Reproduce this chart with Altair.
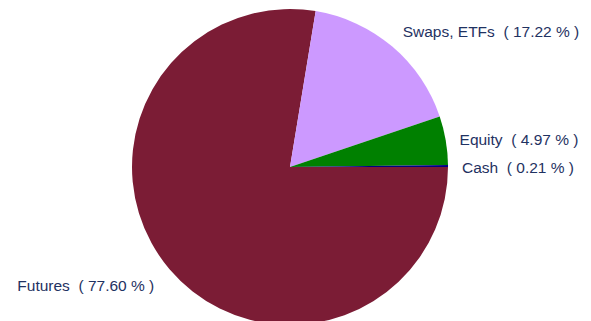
import altair as alt
import pandas as pd
import math

categories = ["Futures", "Swaps, ETFs", "Equity", "Cash"]
values = [77.60, 17.22, 4.97, 0.21]
colors = ["#7B1C35", "#CC99FF", "#008000", "#000080"]
labels = [f"{c}\u00a0 ( {v:.2f} % )" for c, v in zip(categories, values)]

df = pd.DataFrame({"cat": categories, "val": values, "label": labels,
                   "order": list(range(len(categories)))})

theta_scale = alt.Scale(domain=[0, 100], range=[math.pi / 2, math.pi / 2 + 2 * math.pi])

pie = alt.Chart(df).mark_arc(outerRadius=158, stroke=None).encode(
    theta=alt.Theta("val:Q", stack=True, scale=theta_scale),
    order=alt.Order("order:Q"),
    color=alt.Color("cat:N", scale=alt.Scale(domain=categories, range=colors), legend=None),
)

lab = alt.Chart(df).transform_window(
    cum="sum(val)", sort=[alt.SortField("order")]
).transform_calculate(mid="datum.cum - datum.val / 2")

txt_style = dict(font="Liberation Sans", fontSize=15.5, color="#1F3262", baseline="middle")
enc = dict(theta=alt.Theta("mid:Q", scale=theta_scale), text="label:N")

swaps = lab.transform_filter(alt.datum.cat == "Swaps, ETFs").mark_text(
    radius=174, align="left", dy=-2, **txt_style).encode(**enc)
small = lab.transform_filter((alt.datum.cat == "Equity") | (alt.datum.cat == "Cash")).mark_text(
    radius=172, align="left", dy=2, **txt_style).encode(**enc)
left = lab.transform_filter(alt.datum.cat == "Futures").mark_text(
    radius=178, align="right", dy=4, **txt_style).encode(**enc)

chart = alt.layer(pie, swaps, small, left).properties(
    width=564, height=318,
    padding={"left": 0, "top": 0, "right": 11, "bottom": 0},
    autosize=alt.AutoSizeParams(type="none"),
).configure_view(stroke=None)

chart.save("out.html", embed_options={"renderer": "svg", "actions": False})
